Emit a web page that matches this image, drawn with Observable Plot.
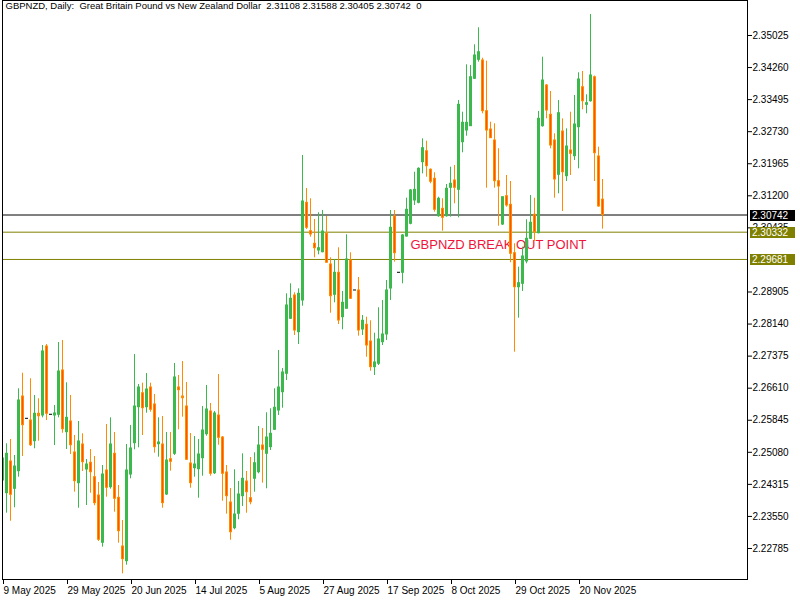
<!DOCTYPE html>
<html><head><meta charset="utf-8">
<script src="https://cdn.jsdelivr.net/npm/d3@7"></script>
<script src="https://cdn.jsdelivr.net/npm/@observablehq/plot@0.6"></script>
<style>html,body{margin:0;padding:0;background:#fff;overflow:hidden}</style>
</head><body><div id="chart"></div>
<script>
const headerText = "GBPNZD, Daily:  Great Britain Pound vs New Zealand Dollar  2.31108 2.31588 2.30405 2.30742  0";

const openP = [2.24407,2.24104,2.24861,2.24209,2.24629,2.26411,2.25879,2.25839,2.25345,2.25999,
2.25958,2.27604,2.25975,2.25958,2.25975,2.27032,2.25560,2.25815,2.25075,2.24343,
2.25266,2.24670,2.24830,2.24486,2.24049,2.22921,2.24646,2.24247,2.25044,2.23994,
2.22832,2.22482,2.24550,2.25297,2.26156,2.26490,2.26156,2.26626,2.26221,2.25273,
2.25266,2.24073,2.24915,2.25044,2.26626,2.26411,2.26173,2.24813,2.24701,2.24677,
2.24939,2.25512,2.26054,2.24581,2.25958,2.25433,2.24598,2.23882,2.23269,2.23613,
2.24033,2.24383,2.23985,2.24448,2.24605,2.25242,2.25044,2.25202,2.25617,2.26077,
2.26514,2.26953,2.28266,2.28821,2.27946,2.28702,2.31033,2.30356,2.30055,2.29895,
2.29854,2.30293,2.29561,2.28838,2.29363,2.28304,2.28504,2.29656,2.28941,2.28941,
2.28010,2.28122,2.27724,2.27111,2.27192,2.27707,2.27891,2.28988,2.30706,2.29363,
2.29363,2.30229,2.30532,2.31088,2.31033,2.32002,2.32264,2.31821,2.31606,2.30713,
2.30890,2.30713,2.31391,2.31565,2.31343,2.32479,2.32758,2.32861,2.33992,2.34445,
2.34428,2.33219,2.32782,2.32520,2.31549,2.30515,2.31191,2.30985,2.29831,2.29019,
2.29100,2.29633,2.30174,2.30747,2.30308,2.32861,2.33832,2.33133,2.32520,2.31701,
2.32734,2.31668,2.32281,2.32145,2.32837,2.33791,2.33371,2.33457,2.34030,2.32138,
2.31108];

const highP = [2.25075,2.25283,2.25385,2.25004,2.26595,2.26967,2.25879,2.26834,2.26435,2.26357,
2.27628,2.27652,2.25975,2.26197,2.27700,2.27748,2.26738,2.26435,2.25481,2.25815,
2.25522,2.24908,2.25147,2.24980,2.24360,2.24765,2.25743,2.25903,2.25553,2.24288,
2.23453,2.25266,2.25720,2.27414,2.26698,2.26729,2.26960,2.26729,2.26459,2.25903,
2.25934,2.25553,2.25553,2.27199,2.26913,2.27247,2.26746,2.25529,2.25457,2.25385,
2.26173,2.26674,2.26244,2.26054,2.26936,2.25457,2.24765,2.24216,2.24663,2.24383,
2.25044,2.24622,2.24956,2.25068,2.25696,2.25648,2.26023,2.26118,2.26595,2.27509,
2.27080,2.28862,2.29100,2.28886,2.28981,2.32162,2.31374,2.31129,2.30635,2.30795,
2.30849,2.30706,2.29721,2.29680,2.29959,2.28917,2.30270,2.29840,2.28941,2.29251,
2.28344,2.28304,2.28218,2.27922,2.28528,2.28702,2.29179,2.30849,2.30849,2.29363,
2.30277,2.31143,2.31351,2.31763,2.31868,2.32560,2.32503,2.31844,2.31749,2.31167,
2.31129,2.31470,2.31883,2.31923,2.33474,2.33195,2.34326,2.34309,2.34803,2.35209,
2.34483,2.34412,2.32956,2.32918,2.32322,2.31167,2.31685,2.31541,2.30055,2.29497,
2.29974,2.30628,2.31207,2.31143,2.33212,2.34507,2.33856,2.33689,2.32680,2.33474,
2.33037,2.32799,2.33195,2.33593,2.34135,2.34166,2.33610,2.35526,2.34059,2.32360,
2.31588];

const lowP = [2.24264,2.23627,2.23436,2.23756,2.24486,2.24980,2.25879,2.25218,2.25164,2.25345,
2.25903,2.25839,2.25975,2.25242,2.25903,2.25536,2.25147,2.25028,2.24128,2.23746,
2.24622,2.23811,2.24104,2.23804,2.22952,2.22816,2.24009,2.24200,2.23651,2.22911,
2.22181,2.22386,2.24448,2.25140,2.25187,2.25481,2.26013,2.26037,2.25059,2.24963,
2.23746,2.24049,2.24629,2.25004,2.25617,2.25918,2.24884,2.24223,2.24486,2.23985,
2.24510,2.25464,2.24510,2.24550,2.25249,2.23913,2.23603,2.22983,2.23231,2.23470,
2.23787,2.23627,2.23827,2.24128,2.24567,2.24343,2.24209,2.25123,2.25600,2.25958,
2.26132,2.26793,2.28249,2.27867,2.27652,2.28566,2.30396,2.30212,2.29721,2.29792,
2.29840,2.29592,2.28399,2.28647,2.28129,2.28003,2.28504,2.28726,2.28941,2.27850,
2.27867,2.27349,2.27015,2.26913,2.27151,2.27628,2.27748,2.28702,2.29616,2.29363,
2.29100,2.30212,2.30508,2.30969,2.31009,2.31725,2.31644,2.31487,2.30809,2.30690,
2.30356,2.30690,2.30690,2.31009,2.30675,2.32226,2.32622,2.32861,2.33975,2.34388,
2.33157,2.31382,2.32575,2.31382,2.30475,2.30492,2.30928,2.29602,2.27468,2.28280,
2.28917,2.29578,2.30157,2.30110,2.30293,2.32837,2.33037,2.32322,2.31143,2.31248,
2.30826,2.31541,2.31685,2.32042,2.31844,2.33252,2.33157,2.33433,2.31541,2.30928,
2.30405];

const closeP = [2.24932,2.25044,2.24066,2.24741,2.26316,2.25727,2.25879,2.25249,2.25999,2.25941,
2.27485,2.25999,2.25975,2.26006,2.27008,2.25631,2.25903,2.25249,2.24391,2.25338,
2.24844,2.24789,2.24605,2.23866,2.22992,2.24550,2.24233,2.25266,2.23971,2.23198,
2.22529,2.24646,2.25171,2.26173,2.26626,2.26132,2.26578,2.26094,2.25202,2.25314,
2.23866,2.24884,2.24853,2.26865,2.26562,2.26371,2.24901,2.24343,2.24789,2.25028,
2.25600,2.26101,2.24567,2.26006,2.25426,2.24567,2.24033,2.23174,2.23596,2.24073,
2.24448,2.24128,2.23889,2.24820,2.25242,2.25140,2.25433,2.25522,2.26142,2.26626,
2.26984,2.28583,2.28743,2.27986,2.28862,2.31064,2.30437,2.30277,2.29950,2.29950,
2.30348,2.29602,2.28805,2.29363,2.28225,2.28647,2.29680,2.28743,2.28941,2.27986,
2.28218,2.27628,2.27111,2.27223,2.27772,2.27891,2.28941,2.30437,2.29831,2.29363,
2.30253,2.30866,2.31327,2.31343,2.31844,2.32336,2.31906,2.31534,2.30866,2.31129,
2.30675,2.31367,2.31487,2.31391,2.33371,2.32942,2.32942,2.34030,2.34548,2.34626,
2.33219,2.32758,2.32575,2.31549,2.31422,2.31167,2.30969,2.29816,2.29019,2.29115,
2.29752,2.30174,2.30556,2.30336,2.33037,2.33951,2.33235,2.32400,2.31589,2.33171,
2.31763,2.32376,2.32202,2.32901,2.33975,2.33457,2.33410,2.34071,2.32217,2.30945,
2.30742];

const dateLabels = ["9 May 2025","29 May 2025","20 Jun 2025","14 Jul 2025","5 Aug 2025",
  "27 Aug 2025","17 Sep 2025","8 Oct 2025","29 Oct 2025","20 Nov 2025"];
const barsPerDateLabel = 16;

// 2.29670 lies fully under the 2.29681 level box in the reference, so it is not drawn
const priceTicks = [2.35025,2.34260,2.33495,2.32730,2.31965,2.31200,2.30435,2.28905,
  2.28140,2.27375,2.26610,2.25845,2.25080,2.24315,2.23550,2.22785];

const levelValues = [2.30742, 2.30332, 2.29681];

const annotationText = "GBPNZD BREAK OUT POINT";
const annotationBar = 102;
const annotationPrice = 2.30038;

// styles
const UP = "#3cb94d", DOWN_EDGE = "#ff8c00", DOWN_FILL = "#ff5500";
const LEVEL_COLORS = ["#000000", "#808000", "#808000"];
const FONT = "Liberation Sans, Arial, sans-serif";

const bars = openP.map((o, i) => ({i, open: o, high: highP[i], low: lowP[i], close: closeP[i]}));
const bull = bars.filter(d => d.close > d.open);
const bear = bars.filter(d => d.close < d.open);
const doji = bars.filter(d => d.close === d.open);
const bearInner = bear.filter(d => d.open - d.close > 0.0006);
const tickPositions = dateLabels.map((_, k) => k * barsPerDateLabel);

const W = 800, H = 600, mL = 2, mR = 53, mT = 0, mB = 21;

const plot = Plot.plot({
  width: W, height: H,
  marginLeft: mL, marginRight: mR, marginTop: mT, marginBottom: mB,
  x: {domain: [0, (W - mL - mR) / 4], label: null},
  y: {domain: [2.22045, 2.35860], label: null},
  style: {fontFamily: FONT, fontSize: "10px", background: "#fff", color: "#000", overflow: "visible"},
  marks: [
    Plot.ruleY(levelValues.slice(0, 1), {stroke: LEVEL_COLORS[0]}),
    Plot.ruleY(levelValues.slice(1), {stroke: LEVEL_COLORS[1]}),
    Plot.text([annotationText], {x: annotationBar, y: annotationPrice, text: d => d,
      textAnchor: "start", fill: "#f0143c", fontSize: 13}),
    Plot.ruleX(bull, {x: "i", y1: "low", y2: "high", stroke: UP, clip: true}),
    Plot.ruleX(bull, {x: "i", y1: "close", y2: "open", stroke: UP, strokeWidth: 3,
      insetTop: -0.5, insetBottom: -0.5, clip: true}),
    Plot.ruleX(bear, {x: "i", y1: "low", y2: "high", stroke: DOWN_EDGE, clip: true}),
    Plot.ruleX(bear, {x: "i", y1: "open", y2: "close", stroke: DOWN_EDGE, strokeWidth: 3,
      insetTop: -0.5, insetBottom: -0.5, clip: true}),
    Plot.ruleX(bearInner, {x: "i", y1: "open", y2: "close", stroke: DOWN_FILL, strokeWidth: 1,
      insetTop: 0.5, insetBottom: 0.5, clip: true}),
    Plot.ruleX(doji, {x: "i", y1: "open", y2: "close", stroke: "#000", strokeWidth: 3,
      insetTop: -0.5, insetBottom: -0.5, clip: true}),
    Plot.axisY({anchor: "right", ticks: priceTicks, tickSize: 4, tickPadding: 1,
      tickFormat: d3.format(".5f"), label: null, fontSize: 10}),
    Plot.axisX({ticks: tickPositions, tickSize: 5, tickPadding: 2, textAnchor: "start", dx: 1,
      tickFormat: d => dateLabels[Math.round(d / barsPerDateLabel)], label: null, fontSize: 10}),
    Plot.frame({stroke: "#000"}),
    Plot.text([headerText], {frameAnchor: "top-left", dx: 3, dy: 2, lineAnchor: "top",
      textAnchor: "start", text: d => d, fontSize: 9.5, fill: "#000"})
  ]
});

// price labels of the horizontal levels, placed with the plot's own y scale
const svg = d3.select(plot);
const ys = plot.scale("y");
levelValues.forEach((v, k) => {
  const y = Math.round(ys.apply(v));
  const x0 = W - mR + 3;
  svg.append("rect").attr("x", x0).attr("y", y - 5).attr("width", 45).attr("height", 11)
    .attr("fill", LEVEL_COLORS[k]);
  svg.append("text").attr("x", x0 + 2).attr("y", y).attr("dy", "0.35em")
    .attr("text-anchor", "start")
    .attr("fill", "#fff").attr("font-size", 10).attr("font-family", FONT)
    .text(d3.format(".5f")(v));
});

document.getElementById("chart").appendChild(plot);
</script>
</body></html>
